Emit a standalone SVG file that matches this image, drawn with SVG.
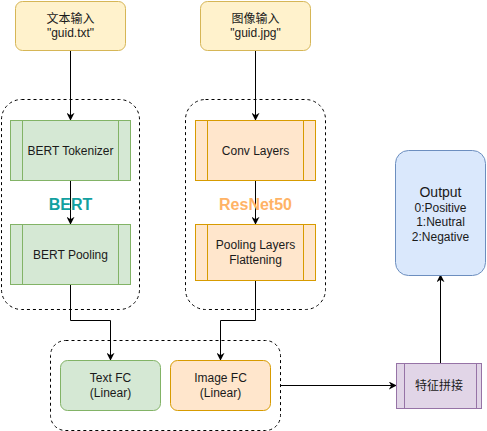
<svg xmlns="http://www.w3.org/2000/svg" width="487" height="431" viewBox="0 0 487 431">
<defs>
<marker id="arr" viewBox="0 0 10 10" refX="9" refY="5" markerWidth="8" markerHeight="8" markerUnits="userSpaceOnUse" orient="auto">
<path d="M0,0 L10,5 L0,10 L3,5 Z" fill="#000"/>
</marker>
</defs>
<style>
text{font-family:"Liberation Sans","Noto Sans CJK SC",Arial,sans-serif;font-size:12px;fill:#1a1a1a;text-anchor:middle}
.dash{fill:none;stroke:#000;stroke-dasharray:3 3;stroke-width:1}
.yel{fill:#fff2cc;stroke:#d6b656}
.grn{fill:#d5e8d4;stroke:#82b366}
.org{fill:#ffe6cc;stroke:#d79b00}
.pur{fill:#e1d5e7;stroke:#9673a6}
.blu{fill:#dae8fc;stroke:#6c8ebf}
.edge{fill:none;stroke:#000;stroke-width:1;marker-end:url(#arr)}
</style>
<g id="containers">
<rect id="bert-group" class="dash" x="1.5" y="99.5" width="138" height="210" rx="20"/>
<rect id="resnet-group" class="dash" x="185.5" y="99.5" width="140" height="210" rx="20"/>
<rect id="fc-group" class="dash" x="50.5" y="340.5" width="230" height="90" rx="15"/>
</g>
<g id="connectors">
<path class="edge" d="M70.5,50 V120"/>
<path class="edge" d="M70.5,180 V224"/>
<path class="edge" d="M255.5,50 V120"/>
<path class="edge" d="M255.5,180 V224"/>
<path class="edge" d="M70.5,284 V320.5 H110.5 V360"/>
<path class="edge" d="M255.5,280 V320.5 H220.5 V360"/>
<path class="edge" d="M280.5,385.5 H396"/>
<path class="edge" d="M440.5,363 V275"/>
</g>
<g id="text-input">
<rect class="yel" x="15.5" y="1.5" width="110" height="49" rx="7"/>
<text x="70.5" y="23">文本输入</text>
<text x="70.5" y="37">"guid.txt"</text>
</g>
<g id="image-input">
<rect class="yel" x="200.5" y="1.5" width="110" height="49" rx="7"/>
<text x="255.5" y="23">图像输入</text>
<text x="255.5" y="37">"guid.jpg"</text>
</g>
<g id="bert-tokenizer">
<rect class="grn" x="10.5" y="120.5" width="120" height="60"/>
<path class="grn" d="M22.5,120.5 V180.5 M118.5,120.5 V180.5"/>
<text x="70.5" y="154.5">BERT Tokenizer</text>
</g>
<g id="bert-label">
<text x="70.5" y="210" style="font-size:16px;font-weight:bold;fill:#12a0a0">BERT</text>
</g>
<g id="bert-pooling">
<rect class="grn" x="10.5" y="224.5" width="120" height="60"/>
<path class="grn" d="M22.5,224.5 V284.5 M118.5,224.5 V284.5"/>
<text x="70.5" y="258.5">BERT Pooling</text>
</g>
<g id="conv-layers">
<rect class="org" x="195.5" y="120.5" width="120" height="60"/>
<path class="org" d="M207.5,120.5 V180.5 M303.5,120.5 V180.5"/>
<text x="255.5" y="154.5">Conv Layers</text>
</g>
<g id="resnet-label">
<text x="255.5" y="210" style="font-size:16px;font-weight:bold;fill:#ffb366">ResNet50</text>
</g>
<g id="pooling-layers">
<rect class="org" x="195.5" y="224.5" width="120" height="56"/>
<path class="org" d="M207.5,224.5 V280.5 M303.5,224.5 V280.5"/>
<text x="255.5" y="249">Pooling Layers</text>
<text x="255.5" y="264">Flattening</text>
</g>
<g id="text-fc">
<rect class="grn" x="60.5" y="360.5" width="100" height="50" rx="7"/>
<text x="110.5" y="382">Text FC</text>
<text x="110.5" y="397">(Linear)</text>
</g>
<g id="image-fc">
<rect class="org" x="170.5" y="360.5" width="100" height="50" rx="7"/>
<text x="220.5" y="382">Image FC</text>
<text x="220.5" y="397">(Linear)</text>
</g>
<g id="concat">
<rect class="pur" x="396.5" y="363.5" width="85" height="45"/>
<path class="pur" d="M404.5,363.5 V408.5 M476.5,363.5 V408.5"/>
<text x="439" y="390">特征拼接</text>
</g>
<g id="output">
<rect class="blu" x="395.5" y="150.5" width="90" height="125" rx="13"/>
<text x="440.5" y="197" style="font-size:14px">Output</text>
<text x="440.5" y="212">0:Positive</text>
<text x="440.5" y="226">1:Neutral</text>
<text x="440.5" y="241">2:Negative</text>
</g>
</svg>
